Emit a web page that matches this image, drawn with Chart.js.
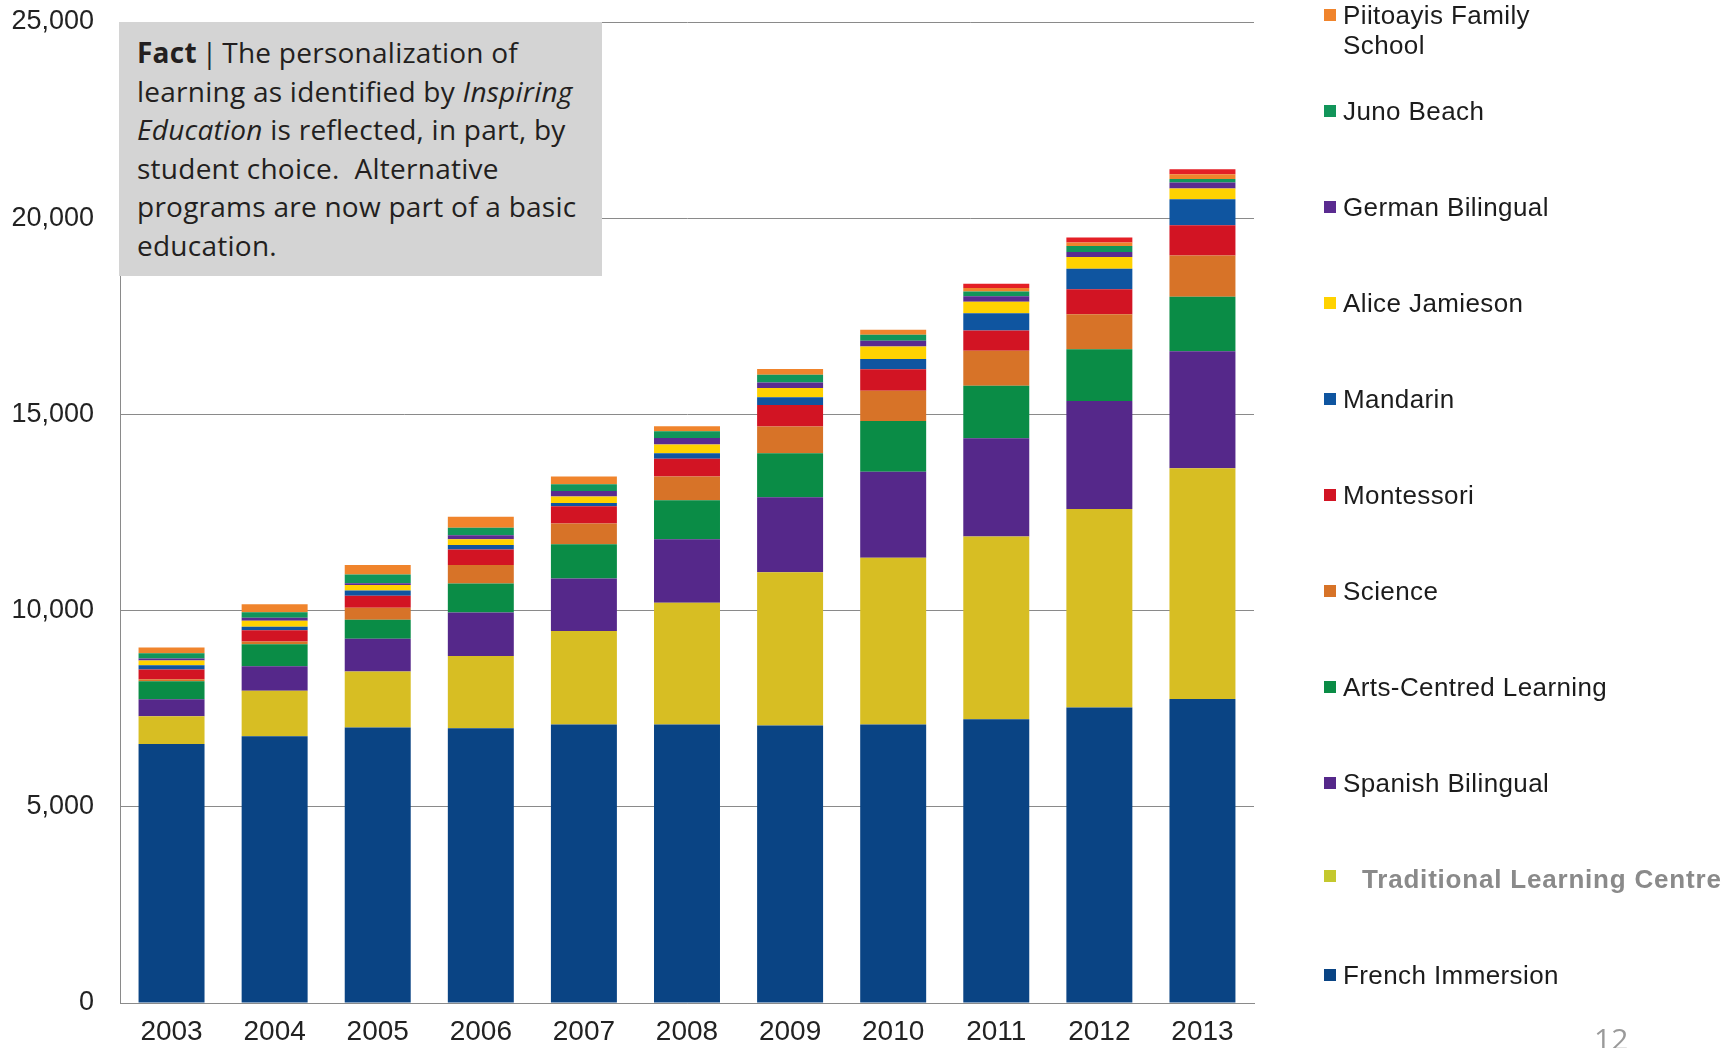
<!DOCTYPE html>
<html>
<head>
<meta charset="utf-8">
<title>Alternative program enrolment 2003-2013</title>
<script src="https://cdn.jsdelivr.net/npm/chart.js@4.4.1/dist/chart.umd.min.js"></script>
<style>
  html, body { margin: 0; padding: 0; background: #fff; overflow: hidden; }
  #wrap { position: relative; width: 1733px; height: 1048px; }
  #enrolment { position: absolute; left: 0; top: 0; }
  .fact {
    position: absolute; left: 119px; top: 22px; width: 483px; height: 254px;
    box-sizing: border-box; padding: 11px 0 0 18px;
    background: #d4d4d4;
    font-family: 'Open Sans', sans-serif; font-size: 28px; line-height: 38.5px;
    color: #231f20; letter-spacing: 0.25px;
  }
  .fact b { font-weight: 700; }
  .fact i { font-style: italic; }
  #legend {
    position: absolute; left: 1324px; top: 0; margin: 0; padding: 0; list-style: none;
    font-family: 'Liberation Sans', Arial, sans-serif; font-size: 26px; line-height: 30px;
    color: #1c1c1c; letter-spacing: 0.4px;
  }
  #legend li { height: 96px; display: flex; align-items: flex-start; }
  #legend .sw { width: 12px; height: 12px; margin: 9px 7px 0 0; flex: none; }
  #legend .txt { white-space: pre-line; }
  #legend li.dim .sw { margin-top: 6px; }
  #legend li.dim .txt { padding-left: 19px; font-weight: bold; letter-spacing: 0.8px; color: #8a8a8a; }
  .page {
    position: absolute; left: 1594px; top: 1024px;
    font-family: 'Open Sans', sans-serif; font-size: 30px; line-height: 30px; color: #9a9a9a;
  }
</style>
</head>
<body>
<div id="wrap">
  <canvas id="enrolment" width="1733" height="1048"></canvas>
  <div class="fact"><b>Fact</b>&thinsp;|&thinsp;The personalization of<br>learning as identified by <i>Inspiring</i><br><i>Education</i> is reflected, in part, by<br>student choice.&nbsp; Alternative<br>programs are now part of a basic<br>education.</div>
  <ul id="legend"></ul>
  <div class="page">12</div>
</div>
<script>
// school years
const years = ['2003', '2004', '2005', '2006', '2007', '2008', '2009', '2010', '2011', '2012', '2013'];

// students per program, stacked bottom to top
const frenchImmersion = [6600, 6800, 7020, 7000, 7100, 7100, 7070, 7100, 7230, 7530, 7750];
const traditional     = [710, 1160, 1430, 1840, 2380, 3100, 3910, 4250, 4660, 5060, 5880];
const spanish         = [430, 620, 830, 1110, 1340, 1620, 1910, 2190, 2500, 2750, 2980];
const artsCentred     = [460, 560, 490, 740, 870, 990, 1120, 1290, 1340, 1320, 1390];
const science         = [50, 70, 300, 470, 530, 610, 680, 770, 890, 890, 1050];
const montessori      = [250, 290, 310, 400, 440, 450, 550, 550, 520, 640, 770];
const mandarin        = [110, 90, 130, 110, 80, 140, 200, 260, 440, 520, 660];
const aliceJamieson   = [120, 150, 140, 150, 170, 220, 230, 320, 290, 300, 280];
const german          = [50, 80, 50, 100, 140, 170, 140, 150, 140, 130, 150];
const junoBeach       = [130, 140, 220, 190, 170, 170, 200, 150, 120, 150, 90];
const piitoayis       = [150, 200, 240, 280, 200, 130, 150, 130, 90, 90, 120];
const other           = [0, 0, 0, 0, 0, 0, 0, 0, 110, 130, 130];

const programNames = ['French Immersion', 'Traditional Learning Centre', 'Spanish Bilingual',
  'Arts-Centred Learning', 'Science', 'Montessori', 'Mandarin', 'Alice Jamieson',
  'German Bilingual', 'Juno Beach', 'Piitoayis Family\nSchool', 'Other'];
const programColors = ['#0a4484', '#d7be23', '#55288a', '#0a8c46', '#d77328', '#d21423',
  '#0f55a0', '#ffd200', '#5a2b90', '#12955a', '#f0842c', '#e41f26'];
const programValues = [frenchImmersion, traditional, spanish, artsCentred, science, montessori,
  mandarin, aliceJamieson, german, junoBeach, piitoayis, other];

const datasets = programNames.map((name, i) => ({
  label: name,
  data: programValues[i],
  backgroundColor: programColors[i],
  borderWidth: 0,
  categoryPercentage: 0.8,
  barPercentage: 0.8
}));

const ctx = document.getElementById('enrolment').getContext('2d');
const chart = new Chart(ctx, {
  type: 'bar',
  data: { labels: years, datasets: datasets },
  options: {
    responsive: false,
    animation: false,
    layout: { padding: { top: 22, right: 479, bottom: 0, left: 0 } },
    plugins: { legend: { display: false }, tooltip: { enabled: false } },
    scales: {
      x: {
        stacked: true,
        grid: { display: false, drawTicks: false },
        border: { display: true, color: '#8a8a8a', width: 1 },
        ticks: { color: '#222', padding: 12, font: { family: 'Liberation Sans', size: 28 } },
        afterFit: (scale) => {
          scale.height = 45;
          scale.paddingLeft = 0;
          scale.paddingRight = 0;
        }
      },
      y: {
        stacked: true,
        min: 0,
        max: 25000,
        ticks: { stepSize: 5000, color: '#222', padding: 26, font: { family: 'Liberation Sans', size: 27 } },
        grid: { color: '#8a8a8a', lineWidth: 1, drawTicks: false },
        border: { display: true, color: '#8a8a8a', width: 1 },
        afterFit: (scale) => {
          scale.width = 120;
          scale.paddingTop = 0;
          scale.paddingBottom = 0;
        }
      }
    }
  }
});

// legend on the right, top series first; the unnamed top sliver is left out
const legend = document.getElementById('legend');
chart.data.datasets.slice(0, 11).reverse().forEach((ds) => {
  const li = document.createElement('li');
  if (ds.label === 'Traditional Learning Centre') li.className = 'dim';
  const sw = document.createElement('span');
  sw.className = 'sw';
  sw.style.background = ds.label === 'Traditional Learning Centre' ? '#c4c82e' : ds.backgroundColor;
  const txt = document.createElement('span');
  txt.className = 'txt';
  txt.textContent = ds.label;
  li.appendChild(sw);
  li.appendChild(txt);
  legend.appendChild(li);
});
</script>
</body>
</html>
